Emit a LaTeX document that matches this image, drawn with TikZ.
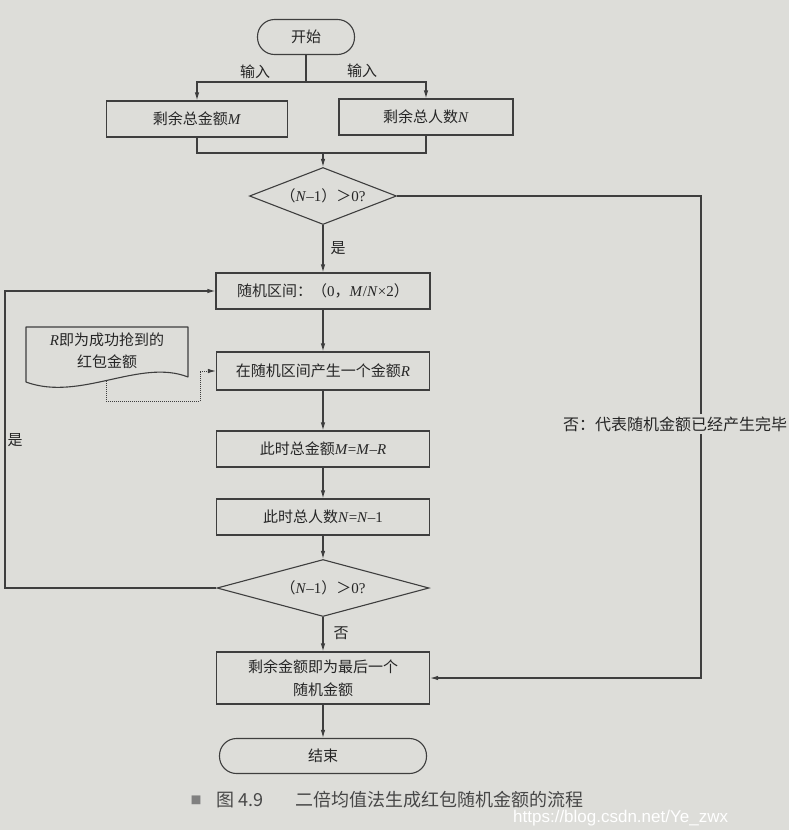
\documentclass[tikz,border=0pt]{standalone}
\usepackage{fontspec}
\setmainfont{Liberation Serif}
\newfontfamily\cjk{Noto Sans CJK SC}
\newfontfamily\wmfont{Liberation Sans}
\usetikzlibrary{arrows.meta,shapes.geometric}
\definecolor{bg}{RGB}{221,221,217}
\definecolor{ln}{RGB}{62,62,62}
\definecolor{tx}{RGB}{38,38,38}
\newcommand\mi[1]{\textit{#1}}
\begin{document}
\begin{tikzpicture}[x=1pt,y=-1pt,
  base/.style={font=\fontsize{15}{23}\selectfont, text=tx},
  proc/.style={base, draw=ln, line width=1.1pt, rectangle, minimum width=213pt, minimum height=36pt, inner sep=2pt, align=center},
  term/.style={proc, rounded corners=17pt, minimum height=35pt},
  dec/.style={base, draw=ln, line width=1.1pt, diamond, aspect=2.5, inner sep=0pt},
  lbl/.style={base, inner sep=1pt},
  conn/.style={draw=ln, line width=1.1pt, -{Latex[length=8pt,width=4.5pt]}},
  plain/.style={draw=ln, line width=1.1pt},
  dots/.style={draw=ln, line width=1pt, densely dotted, -{Latex[length=8pt,width=4.5pt]}}
]
\fill[bg] (0,0) rectangle (789,830);
\useasboundingbox (0,0) rectangle (789,830);

% nodes
\node[term, minimum width=97pt] (start) at (306,37) {{\cjk 开始}};
\node[proc, minimum width=181pt] (m) at (197,119) {{\cjk 剩余总金额}\mi{M}};
\node[proc, minimum width=174pt] (n) at (426,117) {{\cjk 剩余总人数}\mi{N}};
\node[dec, minimum width=147pt, minimum height=57pt] (d1) at (323,196) {{\cjk （}\mi{N}–1{\cjk ）＞}0?};
\node[proc, minimum width=214pt] (b1) at (323,291) {{\cjk 随机区间：（}0{\cjk ，}\mi{M}/\mi{N}×2{\cjk ）}};
\node[proc, minimum height=38pt] (b2) at (323,371) {{\cjk 在随机区间产生一个金额}\mi{R}};
\node[proc] (b3) at (323,449) {{\cjk 此时总金额}\mi{M}=\mi{M}–\mi{R}};
\node[proc] (b4) at (323,517) {{\cjk 此时总人数}\mi{N}=\mi{N}–1};
\node[dec, minimum width=212pt, minimum height=57pt] (d2) at (323,588) {{\cjk （}\mi{N}–1{\cjk ）＞}0?};
\node[proc, minimum height=52pt] (b5) at (323,678) {{\cjk 剩余金额即为最后一个}\\{\cjk 随机金额}};
\node[term, minimum width=207pt] (end) at (323,756) {{\cjk 结束}};

% document shape
\draw[plain, line join=round] (26,327) -- (188,327) -- (188,377) .. controls (140,358) and (80,402) .. (26,382) -- cycle;
\node[base, align=center, inner sep=0pt, font=\fontsize{15}{22}\selectfont] (doc) at (107,351) {\mi{R}{\cjk 即为成功抢到的}\\{\cjk 红包金额}};
\coordinate (docb) at (106,381);
\draw[dots] (docb) -- (106,401) -- (200,401) -- (200,371) -- (b2.west);

% connectors top
\coordinate (split) at (306,82);
\draw[plain] (start.south) -- (split);
\draw[conn] (split) -| (m.north);
\draw[conn] (split) -| (n.north);
\node[lbl] (in1) at (255,72) {\cjk 输入};
\node[lbl] (in2) at (362,71) {\cjk 输入};
\coordinate (nj) at (426,153);
\coordinate (cj) at (323,153);
\draw[plain] (m.south) |- (nj) -- (n.south);
\draw[conn] (cj) -- (d1.north);

% main column
\draw[conn] (d1.south) -- (b1.north);
\node[lbl] (yes1) at (338,248) {\cjk 是};
\draw[conn] (b1.south) -- (b2.north);
\draw[conn] (b2.south) -- (b3.north);
\draw[conn] (b3.south) -- (b4.north);
\draw[conn] (b4.south) -- (d2.north);
\draw[conn] (d2.south) -- (b5.north);
\node[lbl] (no2) at (341,633) {\cjk 否};
\draw[conn] (b5.south) -- (end.north);

% left loop
\coordinate (lb) at (5,588);
\coordinate (lt) at (5,291);
\draw[conn] (d2.west) -- (lb) -- (lt) -- (b1.west);
\node[lbl] (yes2) at (15,440) {\cjk 是};

% right loop
\coordinate (rt) at (701,196);
\coordinate (rb) at (701,678);
\draw[conn] (d1.east) -- (rt) -- (rb) -- (b5.east);
\node[lbl, fill=bg, anchor=west, inner sep=3pt, font=\fontsize{16}{20}\selectfont] (nolbl) at (560,424) {\cjk 否：代表随机金额已经产生完毕};

% caption
\node[anchor=center, text=gray, font=\cjk\fontsize{11}{12}\selectfont, inner sep=0pt] (sq) at (196,800) {■};
\node[anchor=west, text=tx!85, font=\cjk\fontsize{18}{20}\selectfont, inner sep=0pt] (fig) at (216,800) {图 4.9};
\node[anchor=west, text=tx!85, font=\cjk\fontsize{18}{20}\selectfont, inner sep=0pt] (cap) at (295,800) {二倍均值法生成红包随机金额的流程};
\node[anchor=west, text=white, font=\wmfont\fontsize{17}{18}\selectfont, inner sep=0pt] (wm) at (513,818) {https://blog.csdn.net/Ye\_zwx};
\end{tikzpicture}
\end{document}
